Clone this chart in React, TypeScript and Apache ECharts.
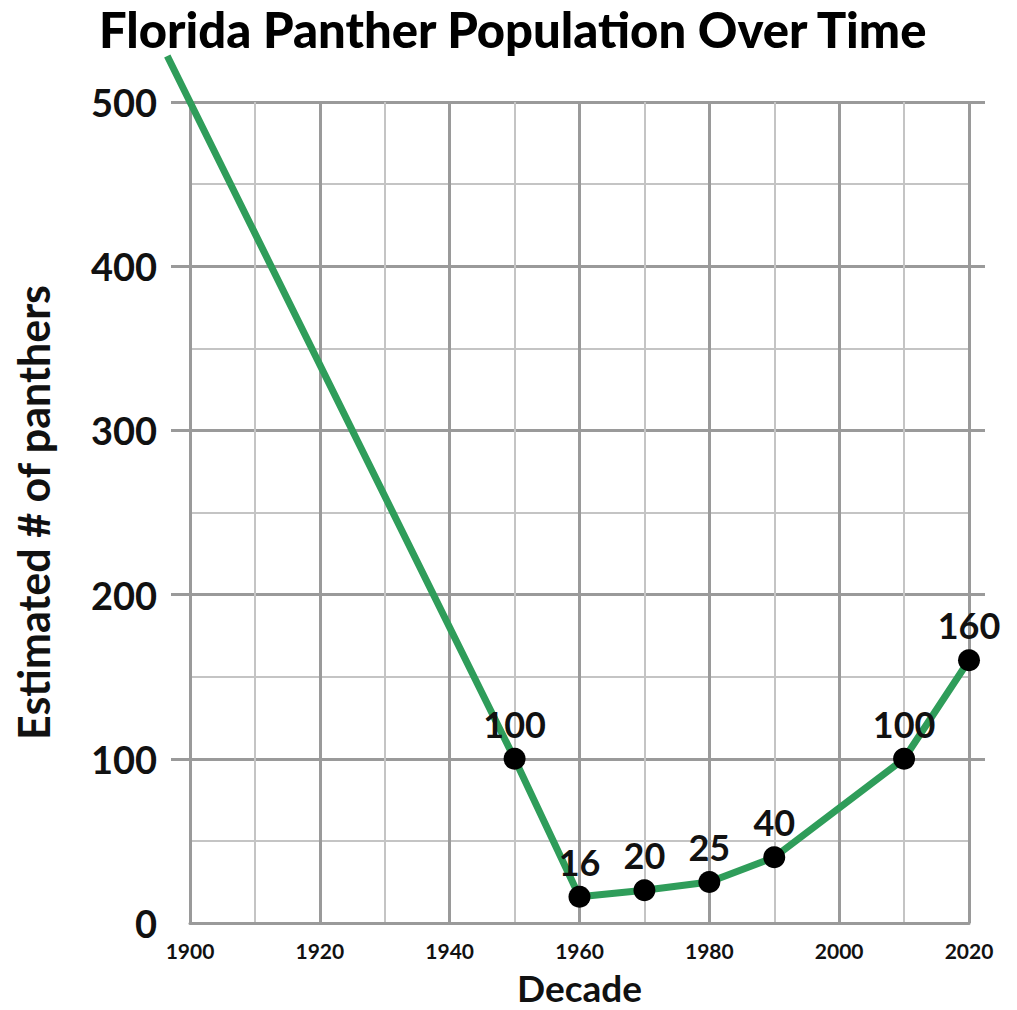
import React, { useEffect, useRef } from "react";
import * as echarts from "echarts";

const titleText = "Florida Panther Population Over Time";
const xName = "Decade";
const yName = "Estimated # of panthers";
// years with marked points and their labelled populations
const years = [1950, 1960, 1970, 1980, 1990, 2010, 2020];
const populations = [100, 16, 20, 25, 40, 100, 160];
// where the drawn line begins (runs off the top-left of the grid, unmarked)
const lineStart = [1896.5, 528];
const xTicks = { min: 1900, max: 2020, step: 20 };
const yTicks = { min: 0, max: 500, step: 100 };
// extended (invisible) range used for the line so it is not clipped
const lineRange = { xMin: 1890, yMax: 550 };

const FONT = "Lato";
const GREEN = "#2f9d5a";
const MAJOR = "#9a9a9a";
const MINOR = "#c4c4c4";

const G = { left: 190, right: 48, top: 102, bottom: 87, W: 1017, H: 1010 };

export default function App() {
  const ref = useRef<HTMLDivElement>(null);
  useEffect(() => {
    if (!ref.current) return;
    document.body.style.margin = "0";
    const chart = echarts.init(ref.current, undefined, { renderer: "svg", width: G.W, height: G.H });
    const pxPerYear = (G.W - G.left - G.right) / (xTicks.max - xTicks.min);
    const pxPerUnit = (G.H - G.top - G.bottom) / (yTicks.max - yTicks.min);
    const seriesData: any[] = [
      { value: lineStart, symbol: "none", label: { show: false } },
      ...years.map((y, i) => ({ value: [y, populations[i]] })),
    ];
    const gridBase = { containLabel: false, outerBoundsMode: "none" };
    chart.setOption({
      animation: false,
      backgroundColor: "#ffffff",
      title: {
        text: titleText,
        left: 99,
        top: 4,
        padding: 0,
        textStyle: { fontFamily: FONT, fontWeight: 900, fontSize: 49, color: "#000" },
      },
      grid: [
        { ...gridBase, left: G.left, right: G.right, top: G.top, bottom: G.bottom },
        { ...gridBase, left: 171, right: 32, top: G.top, bottom: G.bottom + pxPerUnit * yTicks.step },
        {
          ...gridBase,
          left: G.left - pxPerYear * (xTicks.min - lineRange.xMin),
          right: G.right,
          top: G.top - pxPerUnit * (lineRange.yMax - yTicks.max),
          bottom: G.bottom,
        },
      ],
      xAxis: [
        {
          gridIndex: 0,
          type: "value",
          min: xTicks.min,
          max: xTicks.max,
          interval: xTicks.step,
          name: xName,
          nameLocation: "middle",
          nameGap: 46,
          nameTextStyle: { fontFamily: FONT, fontWeight: "bold", fontSize: 37, lineHeight: 37, color: "#111" },
          axisLine: { show: true, lineStyle: { color: MAJOR, width: 3 } },
          axisTick: { show: false },
          axisLabel: {
            fontFamily: FONT,
            fontWeight: "bold",
            fontSize: 21,
            color: "#111",
            margin: 17,
            formatter: (v: number) => String(v),
          },
          splitLine: { show: true, lineStyle: { color: MAJOR, width: 3 } },
          minorTick: { show: false, splitNumber: 2 },
          minorSplitLine: { show: true, lineStyle: { color: MINOR, width: 2 } },
        },
        { gridIndex: 1, type: "value", min: 0, max: 1, show: false },
        { gridIndex: 2, type: "value", min: lineRange.xMin, max: xTicks.max, show: false },
      ],
      yAxis: [
        {
          gridIndex: 0,
          type: "value",
          min: yTicks.min,
          max: yTicks.max,
          interval: yTicks.step,
          name: yName,
          nameLocation: "middle",
          nameRotate: 90,
          nameGap: 135,
          nameTextStyle: { fontFamily: FONT, fontWeight: "bold", fontSize: 43, color: "#111" },
          axisLine: { show: false },
          axisTick: { show: false },
          axisLabel: { fontFamily: FONT, fontWeight: "bold", fontSize: 38, color: "#111", margin: 33 },
          splitLine: { show: false },
          minorTick: { show: false, splitNumber: 2 },
          minorSplitLine: { show: true, lineStyle: { color: MINOR, width: 2 } },
        },
        {
          gridIndex: 1,
          type: "value",
          min: yTicks.step,
          max: yTicks.max,
          interval: yTicks.step,
          axisLine: { show: false },
          axisTick: { show: false },
          axisLabel: { show: false },
          splitLine: { show: true, lineStyle: { color: MAJOR, width: 3 } },
        },
        { gridIndex: 2, type: "value", min: yTicks.min, max: lineRange.yMax, show: false },
      ],
      series: [
        {
          type: "line",
          xAxisIndex: 2,
          yAxisIndex: 2,
          clip: false,
          data: seriesData,
          lineStyle: { color: GREEN, width: 7 },
          symbol: "circle",
          symbolSize: 22,
          itemStyle: { color: "#000" },
          z: 5,
          label: {
            show: true,
            position: "top",
            distance: 6,
            fontFamily: FONT,
            fontWeight: "bold",
            fontSize: 36,
            color: "#111",
            formatter: (p: any) => String(p.value[1]),
          },
        },
      ],
    });
    return () => chart.dispose();
  }, []);
  return <div ref={ref} style={{ width: G.W, height: G.H }} />;
}
